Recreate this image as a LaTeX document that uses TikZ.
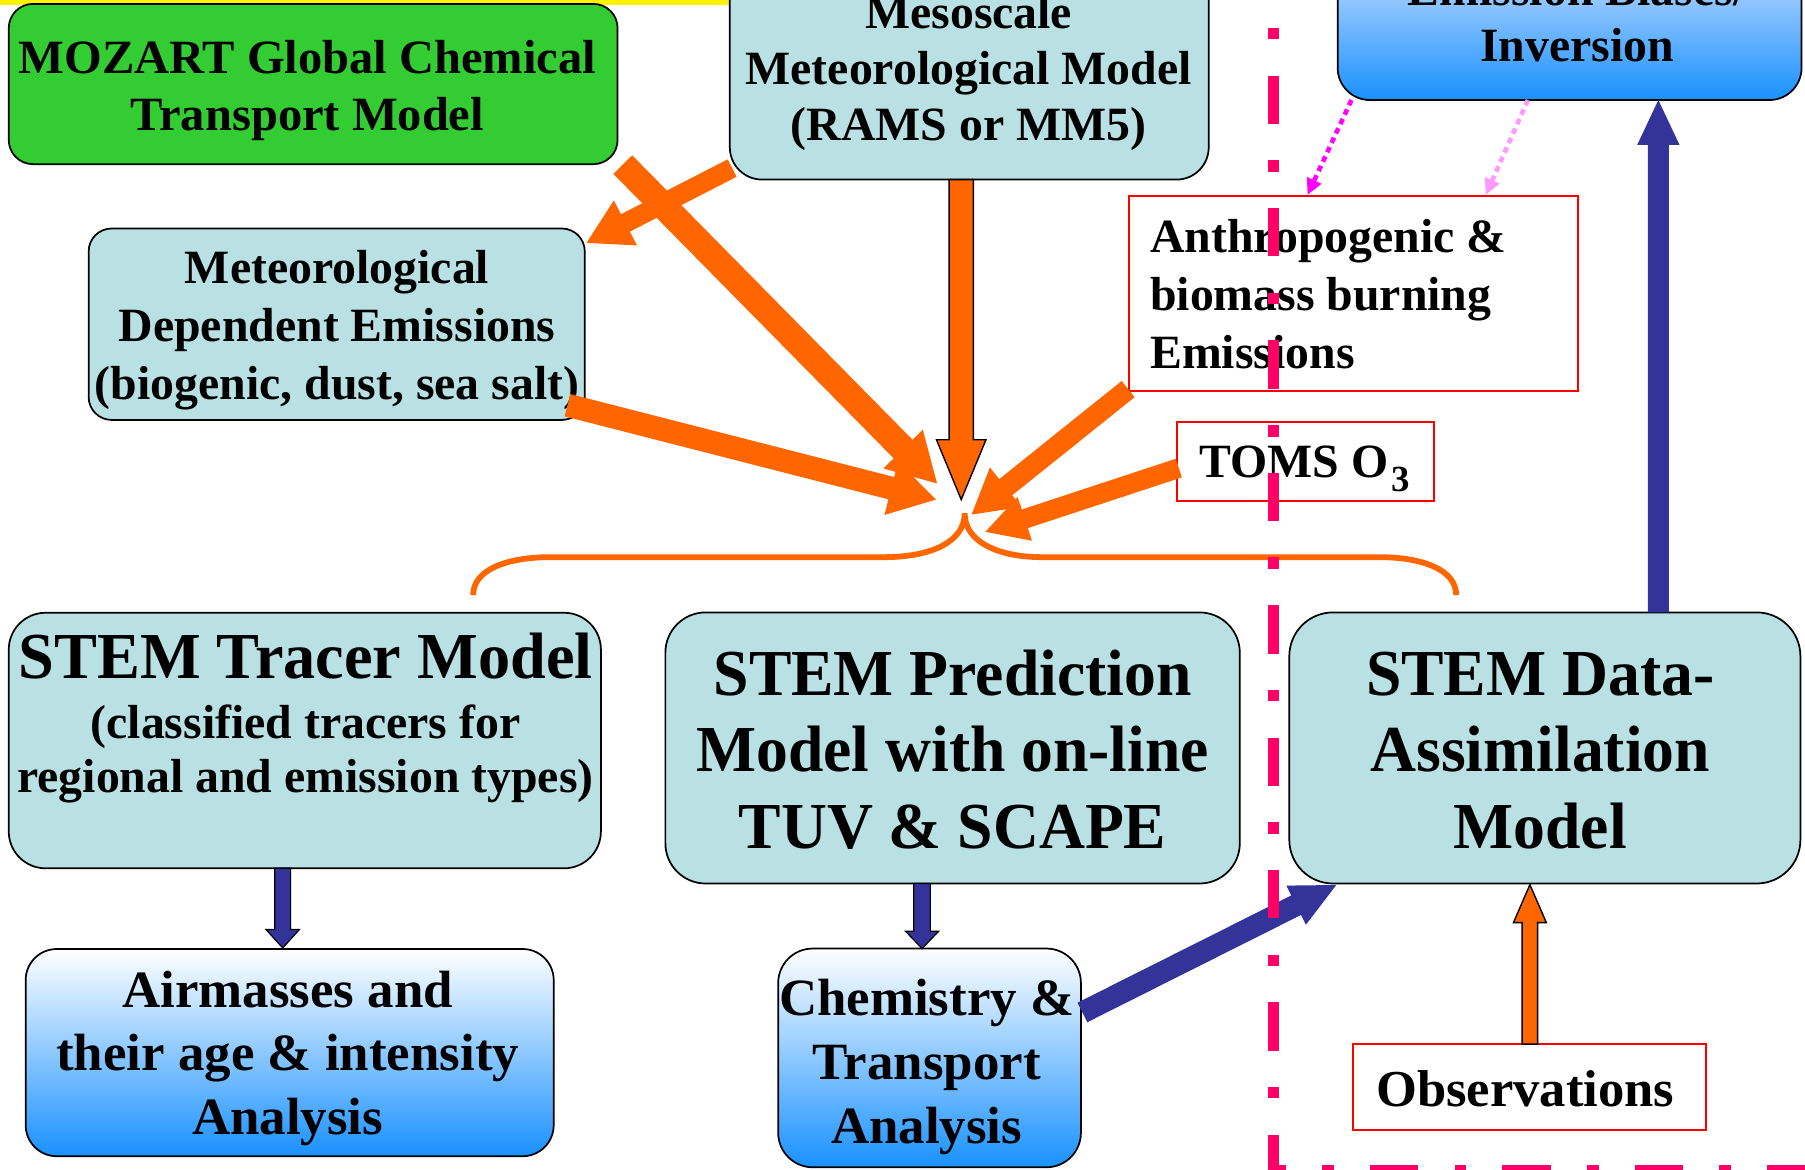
\documentclass[tikz,border=0pt]{standalone}
\usepackage{fontspec}
\setmainfont{Liberation Serif}
\usepackage{graphicx}
\usetikzlibrary{calc,arrows.meta}
\definecolor{cyanbox}{RGB}{185,224,226}
\definecolor{mozgreen}{RGB}{51,204,51}
\definecolor{orng}{RGB}{255,102,0}
\definecolor{navy}{RGB}{51,51,153}
\definecolor{dpink}{RGB}{255,0,102}
\definecolor{magen}{RGB}{255,0,255}
\definecolor{lpink}{RGB}{255,153,255}
\definecolor{gtop}{RGB}{200,222,255}
\definecolor{gmid}{RGB}{205,222,255}
\definecolor{gbot}{RGB}{25,145,255}
\newcommand\tx[4]{\scalebox{#1}[1]{\fontsize{#2}{#3}\selectfont\bfseries\begin{tabular}[t]{@{}c@{}}#4\end{tabular}}}
\newcommand\txl[4]{\scalebox{#1}[1]{\fontsize{#2}{#3}\selectfont\bfseries\begin{tabular}[t]{@{}l@{}}#4\end{tabular}}}
\newcommand\blockarrow[6][]{%
  \coordinate (bah) at ($(#3)!#6!(#2)$);
  \path[#1] ($(#2)!#4!90:(#3)$) -- ($(bah)!#4!90:(#3)$) -- ($(bah)!#5!90:(#3)$) -- (#3)
    -- ($(bah)!#5!-90:(#3)$) -- ($(bah)!#4!-90:(#3)$) -- ($(#2)!#4!-90:(#3)$) -- cycle;}
\begin{document}
\begin{tikzpicture}[x=1pt,y=-1pt,
  cbox/.style={draw=black, line width=1.5pt, fill=cyanbox, inner sep=0pt},
  rbox/.style={draw=red, line width=1.5pt, fill=white, inner sep=0pt},
  gbox/.style={draw=black, line width=1.5pt, inner sep=0pt, top color=white, middle color=gmid, bottom color=gbot},
  txt/.style={inner sep=0pt, anchor=base, text=black},
  orangearrow/.style={fill=orng},
  orangeout/.style={fill=orng, draw=black, line width=1.2pt},
  navyarrow/.style={fill=navy},
  navyout/.style={fill=navy, draw=black, line width=1pt},
  bracepath/.style={draw=orng, line width=5pt},
  pinkline/.style={draw=dpink, line width=9.5pt, dash pattern=on 42pt off 31.5pt on 10pt off 31.5pt},
  dotarrow/.style={line width=4pt, dash pattern=on 5pt off 4pt, -{Triangle[length=14pt,width=13pt]}}
]
\useasboundingbox (0,0) rectangle (1568,1016);
\clip (0,0) rectangle (1568,1016);
\fill[white] (0,0) rectangle (1568,1016);
% yellow strip
\fill[yellow] (0,0) rectangle (640,4.3);

% boxes
\node[cbox, fill=mozgreen, rounded corners=21pt, minimum width=528.9pt, minimum height=139.2pt] (mozart) at (272.05,73) {};
\node[cbox, rounded corners=28pt, minimum width=416pt, minimum height=196pt] (meso) at (842,58) {};
\node[gbox, top color=gtop, middle color=gtop!50!gbot, bottom color=gbot, rounded corners=28pt, minimum width=403pt, minimum height=126.9pt] (emis) at (1363.5,23.45) {};
\node[cbox, rounded corners=20pt, minimum width=431pt, minimum height=166.3pt] (metdep) at (292.5,281.65) {};
\node[rbox, minimum width=390pt, minimum height=169.1pt] (anthro) at (1176,254.85) {};
\node[rbox, minimum width=223pt, minimum height=68.7pt] (toms) at (1134.2,400.65) {};
\node[cbox, rounded corners=32pt, minimum width=514.4pt, minimum height=222pt] (tracer) at (264.8,643.3) {};
\node[cbox, rounded corners=35pt, minimum width=499pt, minimum height=235.5pt] (pred) at (827.5,649.75) {};
\node[cbox, rounded corners=38pt, minimum width=444pt, minimum height=235.5pt] (da) at (1342,649.75) {};
\node[gbox, rounded corners=27pt, minimum width=458.7pt, minimum height=180pt] (air) at (251.65,914.4) {};
\node[gbox, rounded corners=30pt, minimum width=263pt, minimum height=190pt] (chem) at (807.5,919) {};
\node[rbox, minimum width=306.9pt, minimum height=74.6pt] (obs) at (1328.75,944.3) {};

% texts
\node[txt] (mozartT) at (267,63.5) {\tx{1.015}{41.5}{49.5}{MOZART Global Chemical\\Transport Model}};
\node[txt] (mesoT) at (841.5,24.6) {\tx{1}{41.5}{48.7}{Mesoscale\\Meteorological Model\\(RAMS or MM5)}};
\node[txt] (emisT) at (1370,5) {\tx{1}{41.5}{48.7}{Emission Biases/\\Inversion}};
\node[txt] (metdepT) at (292.8,246.6) {\tx{1}{41.5}{50.2}{Meteorological\\Dependent Emissions\\(biogenic, dust, sea salt)}};
\node[txt, anchor=base west] (anthroT) at (999,219.5) {\txl{1.0}{41.5}{50.3}{Anthropogenic \&\\biomass burning\\Emissions}};
\node[txt, anchor=base west] (tomsT) at (1041.8,414.6) {\scalebox{1.0}[1]{\fontsize{41.5}{48}\selectfont\bfseries TOMS O\hspace{3pt}\raisebox{-12.4pt}{\fontsize{32}{32}\selectfont 3}}};
\node[txt] (tracerT) at (265.4,589) {\tx{0.98}{57}{57}{STEM Tracer Model}};
\node[txt] (tracerS) at (265.4,641.2) {\tx{1}{41.5}{47.4}{(classified tracers for\\regional and emission types)}};
\node[txt] (predT) at (827.5,604) {\tx{0.97}{57}{66.5}{STEM Prediction\\Model with on-line\\TUV \& SCAPE}};
\node[txt] (daT) at (1338,604) {\tx{0.97}{57}{66.5}{STEM Data-\\Assimilation\\Model}};
\node[txt] (airT) at (249.9,874.9) {\tx{1.01}{45.5}{55.3}{Airmasses and\\their age \& intensity\\Analysis}};
\node[txt] (chemT) at (805,882) {\tx{1.01}{45.5}{55.5}{Chemistry \&\\Transport\\Analysis}};
\node[txt] (obsT) at (1325,961.3) {\tx{1.015}{45}{50}{Observations}};

% orange block arrows into the focus
\coordinate (a1s) at (636,146);   \coordinate (a1t) at (509.5,211);
\coordinate (a2s) at (541,143);   \coordinate (a2t) at (814,420);
\coordinate (a3s) at (493,352);   \coordinate (a3t) at (813,434);
\coordinate (a4s) at (835,156);   \coordinate (a4t) at (835,434);
\coordinate (a5s) at (980,338);   \coordinate (a5t) at (844,447);
\coordinate (a6s) at (1024,406.6);\coordinate (a6t) at (856,462);
\blockarrow[orangearrow]{a1s}{a1t}{8.5pt}{22pt}{38pt}
\blockarrow[orangearrow]{a2s}{a2t}{11.5pt}{24pt}{42pt}
\blockarrow[orangearrow]{a3s}{a3t}{10pt}{24pt}{40pt}
\blockarrow[orangeout]{a4s}{a4t}{10.5pt}{21.5pt}{52pt}
\blockarrow[orangearrow]{a5s}{a5t}{9pt}{22pt}{38pt}
\blockarrow[orangearrow]{a6s}{a6t}{8.5pt}{20pt}{36pt}

% brace
\coordinate (brL) at (411,517); \coordinate (brC) at (838,446); \coordinate (brR) at (1265,517);
\draw[bracepath] (brL) .. controls (411,495) and (440,484) .. (478,484) -- (768,484)
  .. controls (810,484) and (838,470) .. (brC)
  .. controls (838,470) and (866,484) .. (905,484) -- (1198,484)
  .. controls (1236,484) and (1265,495) .. (brR);

% navy arrows
\coordinate (n1s) at (245.6,754.3); \coordinate (n1t) at (245.6,823.5);
\coordinate (n2s) at (801,767.5);   \coordinate (n2t) at (801,824);
\coordinate (n3s) at (940.3,879.5); \coordinate (n3t) at (1160.8,768.8);
\coordinate (n4s) at (1440.6,532);  \coordinate (n4t) at (1440.6,86.9);
\blockarrow[navyout]{n1s}{n1t}{6.9pt}{14.5pt}{16pt}
\blockarrow[navyout]{n2s}{n2t}{7.2pt}{14.4pt}{15pt}
\blockarrow[navyarrow]{n3s}{n3t}{9.5pt}{19pt}{39pt}
\blockarrow[navyarrow]{n4s}{n4t}{9.2pt}{18.4pt}{39pt}

% observations arrow
\coordinate (o1s) at (1329,907); \coordinate (o1t) at (1329,768.5);
\blockarrow[orangeout]{o1s}{o1t}{6.7pt}{14.3pt}{33pt}

% dotted pink arrows
\coordinate (p1s) at (1174,86.9);   \coordinate (p1t) at (1135.8,169.4);
\coordinate (p2s) at (1327.3,86.9); \coordinate (p2t) at (1290.6,169.4);
\draw[dotarrow, magen] (p1s) -- (p1t);
\draw[dotarrow, lpink] (p2s) -- (p2t);

% dash-dot boundary
\coordinate (ln1) at (1106,-49.3); \coordinate (ln2) at (1106,1016.5); \coordinate (ln3) at (1620,1016.5);
\draw[pinkline] (ln1) -- (ln2) -- (ln3);
\end{tikzpicture}
\end{document}
